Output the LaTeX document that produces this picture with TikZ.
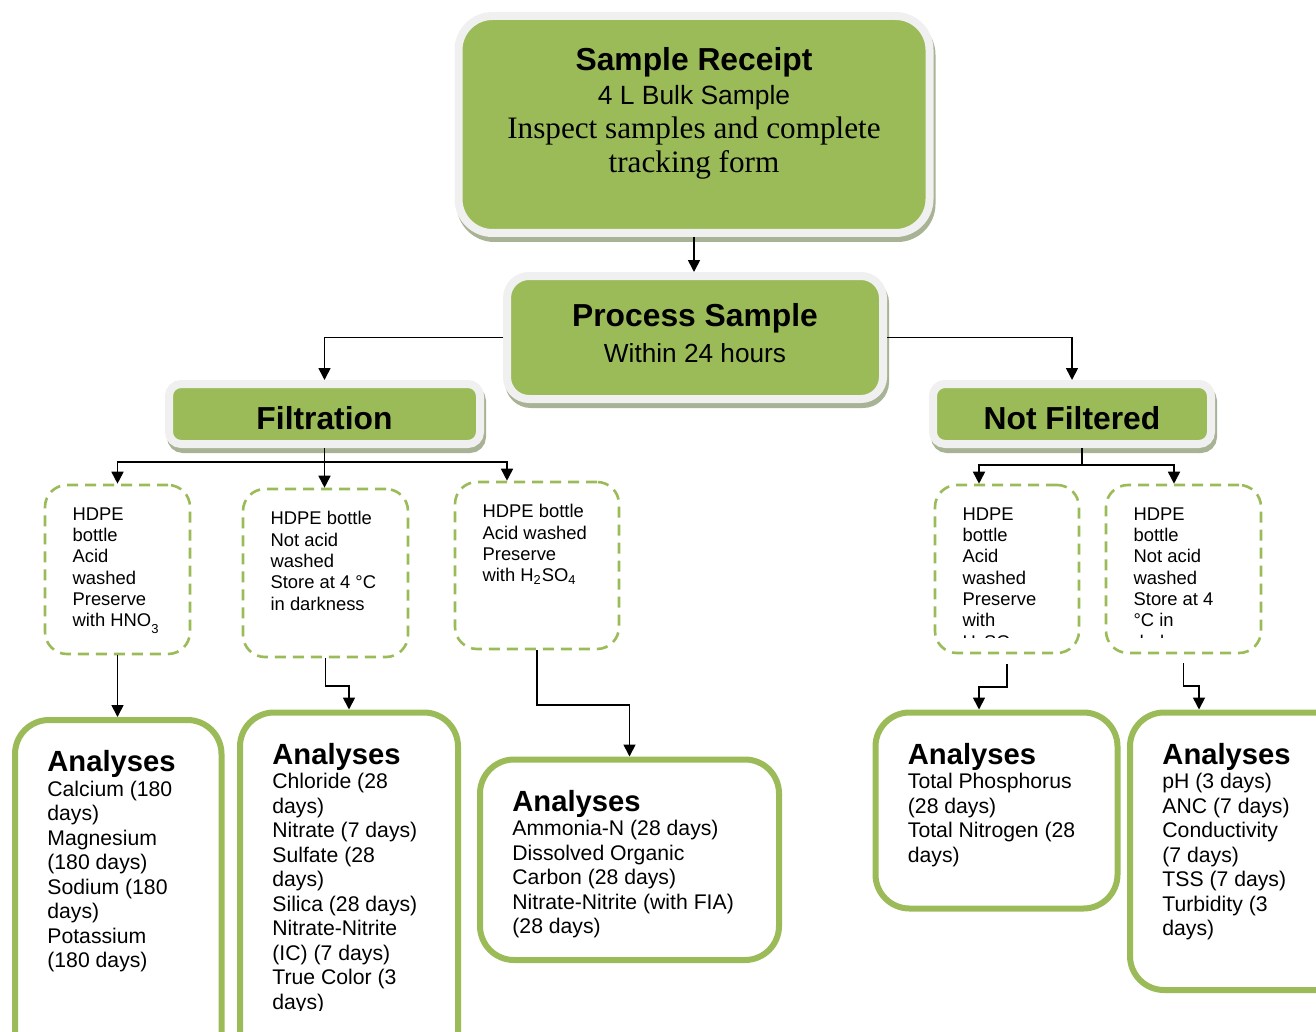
\documentclass[tikz,border=0pt]{standalone}
\usepackage{fontspec}
\setmainfont{Liberation Sans}
\newfontfamily\timesface{Liberation Serif}
\usetikzlibrary{arrows.meta, positioning}
\definecolor{leafgreen}{HTML}{9BBB59}
\definecolor{framegray}{HTML}{F0F0F0}
\definecolor{shadowgreen}{HTML}{A8B294}

\begin{document}
\begin{tikzpicture}[
        x = 0.5pt, y = -0.5pt,
        stage/.style = {
          draw = framegray,
          fill = leafgreen,
          line width = 4pt,
          preaction = {
            draw = shadowgreen, fill = shadowgreen, line width = 4pt,
            transform canvas = {shift = {(1pt,-2.5pt)}}
          },
          align = center,
          font = \bfseries\fontsize{15.9}{18}\selectfont,
        },
        bottle/.style = {
          draw = leafgreen,
          line width = 1.3pt,
          dash pattern = on 5.5pt off 3.5pt,
          rounded corners = 11pt,
        },
        analyses/.style = {
          draw = leafgreen,
          line width = 3pt,
          rounded corners = 17pt,
        },
        bottle text/.style = {
          inner sep = 0pt,
          align = left,
          font = \fontsize{9.2}{10.65}\selectfont,
        },
        list text/.style = {
          inner sep = 0pt,
          align = left,
          font = \fontsize{10.6}{12.25}\selectfont,
        },
        arrow/.style = {-{Triangle[width = 6pt, length = 6pt]}, line width = 0.85pt},
        link/.style = {line width = 0.85pt},
      ]
        \useasboundingbox (0,0) rectangle (1316,1032);

        \node [stage, minimum width = 235.5pt, minimum height = 108.5pt,
          rounded corners = 17pt] (receipt) at (694,124.5) {};
        \node [below = 14pt of receipt.north, align = center,
          font = \fontsize{13.2}{17}\selectfont] (receipt text) {
          {\bfseries\fontsize{15.9}{16.5}\selectfont Sample Receipt}\\
          4 L Bulk Sample\\
          {\timesface\fontsize{15.6}{17}\selectfont Inspect samples and complete}\\
          {\timesface\fontsize{15.6}{18}\selectfont tracking form}};

        \node [stage, minimum width = 188pt, minimum height = 61.5pt,
          rounded corners = 11pt, text depth = 4.5pt] (process) at (695,337.5) {
          Process Sample\\
          {\mdseries\fontsize{13.1}{18}\selectfont Within 24 hours}};

        \node [stage, minimum width = 155.5pt, minimum height = 30pt,
          rounded corners = 6pt, text height = 15.4pt, text depth = 0pt] (filtration) at (324.5,414) {Filtration};
        \node [stage, minimum width = 139pt, minimum height = 30pt,
          rounded corners = 6pt, text height = 15.4pt, text depth = 0pt] (notfilt) at (1072,414) {Not Filtered};

        \node [bottle, minimum width = 72.5pt, minimum height = 84.5pt] (bottle1) at (117.5,569.5) {};
        \node [bottle, minimum width = 82.5pt, minimum height = 84pt]   (bottle2) at (325.5,573) {};
        \node [bottle, minimum width = 82pt,   minimum height = 83.5pt] (bottle3) at (537,565.5) {};
        \node [bottle, minimum width = 72pt,   minimum height = 84pt]   (bottle4) at (1007,569) {};
        \node [bottle, minimum width = 77.5pt, minimum height = 84pt]   (bottle5) at (1183.5,569) {};

        \node [bottle text, below right = 11.75pt and 14.25pt of bottle1.north west] (bottle1 text) {
          HDPE\\ bottle\\ Acid\\ washed\\ Preserve\\
          with HNO\raisebox{-0.7ex}{\fontsize{6.5}{6.5}\selectfont 3}};
        \node [bottle text, below right = 11.75pt and 14.25pt of bottle2.north west] (bottle2 text) {
          HDPE bottle\\ Not acid\\ washed\\ Store at 4 °C\\ in darkness};
        \node [bottle text, below right = 11.75pt and 14.25pt of bottle3.north west] (bottle3 text) {
          HDPE bottle\\ Acid washed\\ Preserve\\ with H\textsubscript{2}SO\textsubscript{4}};
        \begin{scope}
          \clip (900,470) rectangle (1300,637.5);
          \node [bottle text, below right = 11.75pt and 14.25pt of bottle4.north west] (bottle4 text) {
            HDPE\\ bottle\\ Acid\\ washed\\ Preserve\\ with\\ H\textsubscript{2}SO\textsubscript{4}};
          \node [bottle text, below right = 11.75pt and 14.25pt of bottle5.north west] (bottle5 text) {
            HDPE\\ bottle\\ Not acid\\ washed\\ Store at 4\\ °C in\\ darkness};
        \end{scope}

        \node [analyses, minimum width = 103.25pt, minimum height = 175pt]    (analyses1) at (118.25,895) {};
        \node [analyses, minimum width = 109pt,    minimum height = 178.75pt] (analyses2) at (349,891.25) {};
        \node [analyses, minimum width = 149.5pt,  minimum height = 100.25pt] (analyses3) at (629.5,859.75) {};
        \node [analyses, minimum width = 121pt,    minimum height = 98pt]     (analyses4) at (996.5,810.5) {};
        \node [analyses, minimum width = 110pt,    minimum height = 138.75pt] (analyses5) at (1240,851.25) {};

        \node [list text, below right = 16.5pt and 17.5pt of analyses1.north west] (analyses1 text) {
          {\bfseries\fontsize{14.6}{12.25}\selectfont Analyses}\\
          Calcium (180\\ days)\\ Magnesium\\ (180 days)\\ Sodium (180\\ days)\\
          Potassium\\ (180 days)};
        \begin{scope}
          \clip (230,700) rectangle (470,1010);
          \node [list text, below right = 16.5pt and 17.5pt of analyses2.north west] (analyses2 text) {
            {\bfseries\fontsize{14.6}{12.25}\selectfont Analyses}\\
            Chloride (28\\ days)\\ Nitrate (7 days)\\ Sulfate (28\\ days)\\
            Silica (28 days)\\ Nitrate-Nitrite\\ (IC) (7 days)\\ True Color (3\\ days)};
        \end{scope}
        \node [list text, below right = 16.5pt and 17.5pt of analyses3.north west] (analyses3 text) {
          {\bfseries\fontsize{14.6}{12.25}\selectfont Analyses}\\
          Ammonia-N (28 days)\\ Dissolved Organic\\ Carbon (28 days)\\
          Nitrate-Nitrite (with FIA)\\ (28 days)};
        \node [list text, below right = 16.5pt and 17.5pt of analyses4.north west] (analyses4 text) {
          {\bfseries\fontsize{14.6}{12.25}\selectfont Analyses}\\
          Total Phosphorus\\ (28 days)\\ Total Nitrogen (28\\ days)};
        \node [list text, below right = 16.5pt and 17.5pt of analyses5.north west] (analyses5 text) {
          {\bfseries\fontsize{14.6}{12.25}\selectfont Analyses}\\
          pH (3 days)\\ ANC (7 days)\\ Conductivity\\ (7 days)\\ TSS (7 days)\\
          Turbidity (3\\ days)};

        \coordinate (filt split) at (323,462);
        \coordinate (nf split)   at (1082,465);

        \draw [arrow] (receipt.south) to (receipt.south |- process.north);
        \draw [arrow] (process.west) -| (filtration.north);
        \draw [arrow] (process.east) -| (notfilt.north);

        \draw [arrow] (filtration.south) to (filtration.south |- bottle2.north);
        \draw [arrow] (filtration.south |- filt split) -| (bottle1.north);
        \draw [arrow] (filtration.south |- filt split) -| ([xshift = -15pt]bottle3.north);

        \draw [link]  (nf split |- notfilt.south) to (nf split);
        \draw [arrow] (nf split) -| ([xshift = -14pt]bottle4.north);
        \draw [arrow] (nf split) -| ([xshift = -4.75pt]bottle5.north);

        \draw [arrow] (bottle1.south) to (bottle1.south |- analyses1.north);
        \draw [arrow] (bottle2.south) -- ++(0,28) -| (analyses2.north);
        \draw [arrow] (bottle3.south) -- ++(0,55) -| (analyses3.north);
        \draw [arrow] ([yshift = -5pt]bottle4.south) -- ++(0,23) -| ([xshift = -8.75pt]analyses4.north);
        \draw [arrow] ([yshift = -4.5pt]bottle5.south) -- ++(0,23) -| ([xshift = -20.5pt]analyses5.north);
      \end{tikzpicture}
\end{document}
